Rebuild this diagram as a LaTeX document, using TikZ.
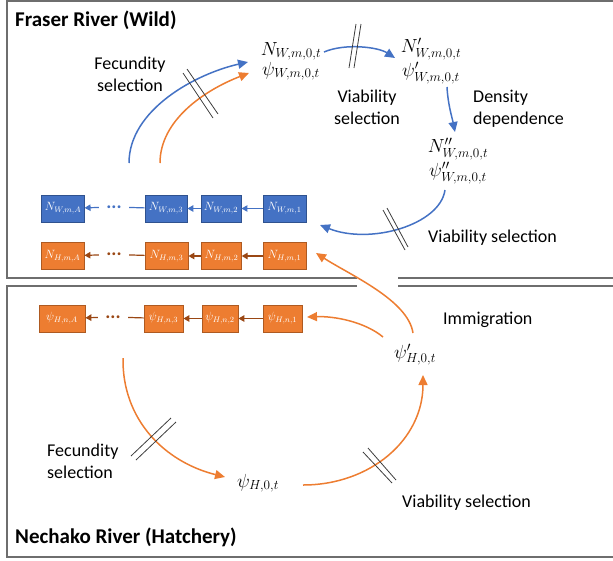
\documentclass[tikz,border=0pt]{standalone}
\usepackage{graphicx}
\usepackage{fontspec}
\setmainfont{Carlito}
\usetikzlibrary{arrows.meta}

\definecolor{wildblue}{HTML}{4472C4}
\definecolor{wildedge}{HTML}{2F528F}
\definecolor{hatchorange}{HTML}{ED7D31}
\definecolor{hatchedge}{HTML}{AE5A21}
\definecolor{hatchchain}{HTML}{9A4714}
\definecolor{framegray}{HTML}{6E6E6E}
\definecolor{hashgray}{HTML}{3C3C3C}

% state-variable labels: math at 17.28pt, enlarged a little
\newcommand{\bigmath}[1]{\scalebox{1.1}{$#1$}}

\tikzset{
  lab/.style={font=\fontsize{18}{22}\selectfont, inner sep=0pt, align=center},
  ttl/.style={font=\fontsize{21}{24}\selectfont\bfseries, inner sep=0pt, anchor=west},
  mlab/.style={font=\fontsize{17.28}{20}\selectfont, inner sep=0pt, anchor=base},
  agebox/.style={minimum height=27pt, inner xsep=3pt, inner ysep=0pt, text=white,
    font=\fontsize{12}{14}\selectfont, line width=0.8pt},
  wbox/.style={agebox, fill=wildblue, draw=wildedge},
  hbox/.style={agebox, fill=hatchorange, draw=hatchedge},
  dotsnode/.style={minimum width=30pt, inner sep=0pt, font=\fontsize{19}{20}\selectfont\bfseries},
  wchain/.style={draw=wildblue, line width=1.2pt},
  hchain/.style={draw=hatchchain, line width=1.2pt},
  chaintip/.style={-{Triangle[length=6pt,width=6.5pt]}},
  bigblue/.style={draw=wildblue, line width=1.5pt, -{Triangle[length=10pt,width=9pt]}},
  bigorange/.style={draw=hatchorange, line width=1.5pt, -{Triangle[length=10pt,width=9pt]}},
  hashmark/.style={draw=hashgray, line width=0.8pt},
  frameline/.style={draw=framegray, line width=1.5pt}
}

\begin{document}
\begin{tikzpicture}[x=1pt, y=-1pt]
\useasboundingbox (0,0) rectangle (613,560);
\clip (0,0) rectangle (613,560);

% ---- panel frames, with a gap in the divider for the immigration arrow
\draw[frameline] (357,278) -- (7,278) -- (7,1) -- (620,1);
\draw[frameline] (398,278) -- (620,278);
\draw[frameline] (357,286) -- (7,286) -- (7,557) -- (620,557);
\draw[frameline] (398,286) -- (620,286);

% ---- panel titles
\node[ttl] (tW) at (15,20) {Fraser River (Wild)};
\node[ttl] (tH) at (15,537) {Nechako River (Hatchery)};

% ---- state variables (placed by their baselines)
\node[mlab] (nW)  at (291,55)  {\bigmath{N_{W,m,0,t}}};
\node[mlab] (pW)  at (291,75)  {\bigmath{\psi_{W,m,0,t}}};
\node[mlab] (nW1) at (431,52.5)  {\bigmath{N'_{W,m,0,t}}};
\node[mlab] (pW1) at (431,76.5)  {\bigmath{\psi'_{W,m,0,t}}};
\node[mlab] (nW2) at (458,152.5) {\bigmath{N''_{W,m,0,t}}};
\node[mlab] (pW2) at (458,176.5) {\bigmath{\psi''_{W,m,0,t}}};
\node[mlab] (pH1) at (415,358) {\bigmath{\psi'_{H,0,t}}};
\node[mlab] (pH)  at (258,487) {\bigmath{\psi_{H,0,t}}};

% ---- process labels
\node[lab] (fecW) at (130,74) {Fecundity\\selection};
\node[lab] (viaW) at (367,107) {Viability\\selection};
\node[lab, align=left, anchor=west] (dens) at (473,109) {Density\\dependence};
\node[lab, anchor=west] (viaW2) at (428,238) {Viability selection};
\node[lab, anchor=west] (immig) at (443,320) {Immigration};
\node[lab, align=left, anchor=west] (fecH) at (47,461) {Fecundity\\selection};
\node[lab, anchor=west] (viaH) at (402,503) {Viability selection};

% ---- age-class boxes: wild abundance
\node[wbox, minimum width=40pt] (wA) at (63,208.5)  {$N_{W,m,A}$};
\node[wbox, minimum width=42pt] (w3) at (166,208.5) {$N_{W,m,3}$};
\node[wbox, minimum width=36pt] (w2) at (221,208.5) {$N_{W,m,2}$};
\node[wbox, minimum width=43pt] (w1) at (284.5,208.5) {$N_{W,m,1}$};
\node[dotsnode, text=wildblue] (dW) at (114,207) {...};

% ---- hatchery-origin abundance in the wild
\node[hbox, minimum width=43pt] (hA) at (62.5,256)  {$N_{H,m,A}$};
\node[hbox, minimum width=43pt] (h3) at (166.5,256) {$N_{H,m,3}$};
\node[hbox, minimum width=37pt] (h2) at (221.5,256) {$N_{H,m,2}$};
\node[hbox, minimum width=43pt] (h1) at (284.5,256) {$N_{H,m,1}$};
\node[dotsnode, text=hatchchain] (dH) at (114,254.5) {...};

% ---- hatchery trait values
\node[hbox, minimum width=46pt] (qA) at (62,318.5)  {$\psi_{H,n,A}$};
\node[hbox, minimum width=39pt] (q3) at (163.5,318.5) {$\psi_{H,n,3}$};
\node[hbox, minimum width=36pt] (q2) at (220,318.5) {$\psi_{H,n,2}$};
\node[hbox, minimum width=39pt] (q1) at (282.5,318.5) {$\psi_{H,n,1}$};
\node[dotsnode, text=hatchchain] (dQ) at (113,317) {...};

% ---- ageing chains
\draw[wchain, chaintip] (w1) -- (w2);
\draw[wchain, chaintip] (w2) -- (w3);
\draw[wchain] (w3) -- (dW);
\draw[wchain, chaintip] (dW) -- (wA);

\draw[hchain, chaintip] (h1) -- (h2);
\draw[hchain, chaintip] (h2) -- (h3);
\draw[hchain] (h3) -- (dH);
\draw[hchain, chaintip] (dH) -- (hA);

\draw[hchain, chaintip] (q1) -- (q2);
\draw[hchain, chaintip] (q2) -- (q3);
\draw[hchain] (q3) -- (dQ);
\draw[hchain, chaintip] (dQ) -- (qA);

% ---- end points of the life-cycle arrows
\coordinate (fwS) at (129,163);  \coordinate (fwT) at (248,62);
\coordinate (foS) at (160,163);  \coordinate (foT) at (249,73);
\coordinate (vwS) at (324,52);   \coordinate (vwT) at (395,58);
\coordinate (ddS) at (447,87);   \coordinate (ddT) at (455,132);
\coordinate (vlS) at (445,190);  \coordinate (vlT) at (320,225);
\coordinate (imS) at (413,333);  \coordinate (imT) at (316,253);
\coordinate (isS) at (383,337);  \coordinate (isT) at (307,317);
\coordinate (hfS) at (123,358);  \coordinate (hfT) at (225,477);
\coordinate (hvS) at (303,485);  \coordinate (hvT) at (423,375);

% ---- wild life cycle
\draw[bigblue]   (fwS) .. controls +(0,-53) and +(-53,12) .. (fwT);
\draw[bigorange] (foS) .. controls +(0,-43) and +(-44,17) .. (foT);
\draw[bigblue]   (vwS) .. controls +(21,-9) and +(-17,-11) .. (vwT);
\draw[bigblue]   (ddS) .. controls +(1,18) and +(-3,-15) .. (ddT);
\draw[bigblue]   (vlS) .. controls +(-5,35) and +(50,20) .. (vlT);

% ---- immigration from the hatchery
\draw[bigorange] (imS) .. controls +(-5,-33) and +(34,22) .. (imT);
\draw[bigorange] (isS) .. controls +(-18,-15) and +(28,-1) .. (isT);

% ---- hatchery life cycle
\draw[bigorange] (hfS) .. controls +(-1,62) and +(-60,-15) .. (hfT);
\draw[bigorange] (hvS) .. controls +(67,0) and +(0,65) .. (hvT);

% ---- selection marks across the arrows
\draw[hashmark] (183,73) -- (213,118);
\draw[hashmark] (187,69) -- (218,114);
\draw[hashmark] (356,24) -- (349,68);
\draw[hashmark] (361,24) -- (354,68);
\draw[hashmark] (383,210) -- (405,250);
\draw[hashmark] (387,208) -- (408,247);
\draw[hashmark] (131,456) -- (171,418);
\draw[hashmark] (136,460) -- (176,422);
\draw[hashmark] (363,452) -- (392,483);
\draw[hashmark] (368,448) -- (396,480);
\end{tikzpicture}
\end{document}
